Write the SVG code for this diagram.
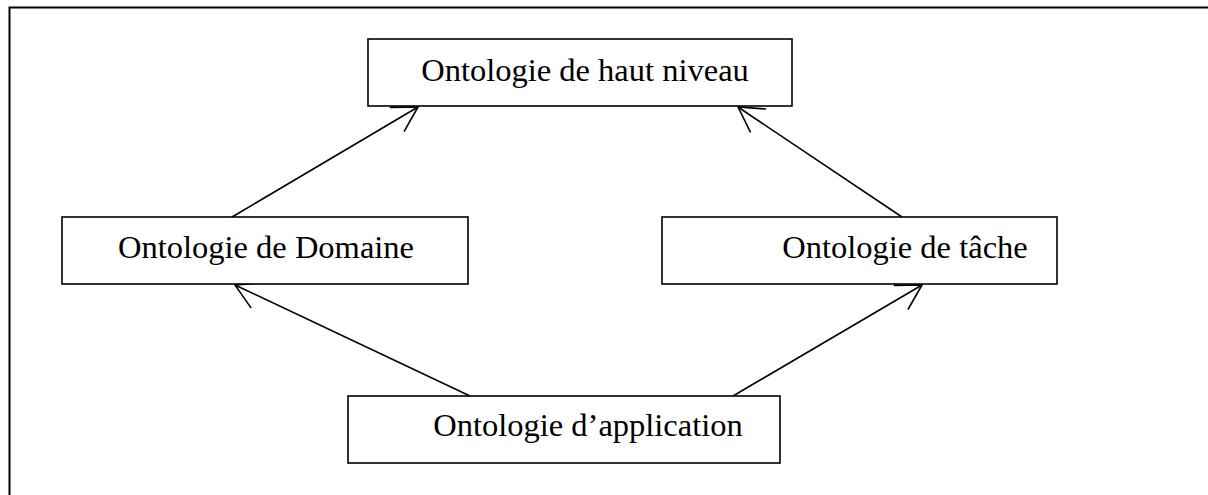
<svg xmlns="http://www.w3.org/2000/svg" width="1208" height="495" viewBox="0 0 1208 495">
  <style>
    .box { fill: #ffffff; stroke: #000000; stroke-width: 1.6; }
    .label { font-family: "Liberation Serif", "Times New Roman", serif; font-size: 32.5px; fill: #000000; }
    .link { fill: none; stroke: #000000; stroke-width: 1.6; marker-end: url(#open-arrow); }
  </style>
  <defs>
    <marker id="open-arrow" markerUnits="userSpaceOnUse" markerWidth="40" markerHeight="40" viewBox="-30 -20 32 40" refX="0" refY="0" orient="auto">
      <path d="M-24.5,-14 L0,0 L-24.5,14" fill="none" stroke="#000000" stroke-width="1.6"/>
    </marker>
  </defs>

  <rect width="1208" height="495" fill="#ffffff"/>
  <!-- outer frame, open toward the right and bottom -->
  <rect x="9.5" y="7.5" width="1260" height="560" fill="none" stroke="#000000" stroke-width="2"/>

  <g id="links">
    <line class="link" x1="232" y1="217" x2="418" y2="107"/>
    <line class="link" x1="902" y1="217" x2="738" y2="107"/>
    <line class="link" x1="470" y1="396" x2="235" y2="285"/>
    <line class="link" x1="733" y1="396" x2="922" y2="285"/>
  </g>

  <g id="haut-niveau">
    <rect class="box" x="368" y="39" width="424" height="67"/>
    <text class="label" x="585" y="81" text-anchor="middle">Ontologie de haut niveau</text>
  </g>

  <g id="domaine">
    <rect class="box" x="62" y="217" width="406" height="67"/>
    <text class="label" x="266" y="258" text-anchor="middle">Ontologie de Domaine</text>
  </g>

  <g id="tache">
    <rect class="box" x="662" y="217" width="395" height="67"/>
    <text class="label" x="905" y="258" text-anchor="middle">Ontologie de tâche</text>
  </g>

  <g id="application">
    <rect class="box" x="348" y="396" width="432" height="67"/>
    <text class="label" x="588" y="436" text-anchor="middle">Ontologie d’application</text>
  </g>
</svg>
